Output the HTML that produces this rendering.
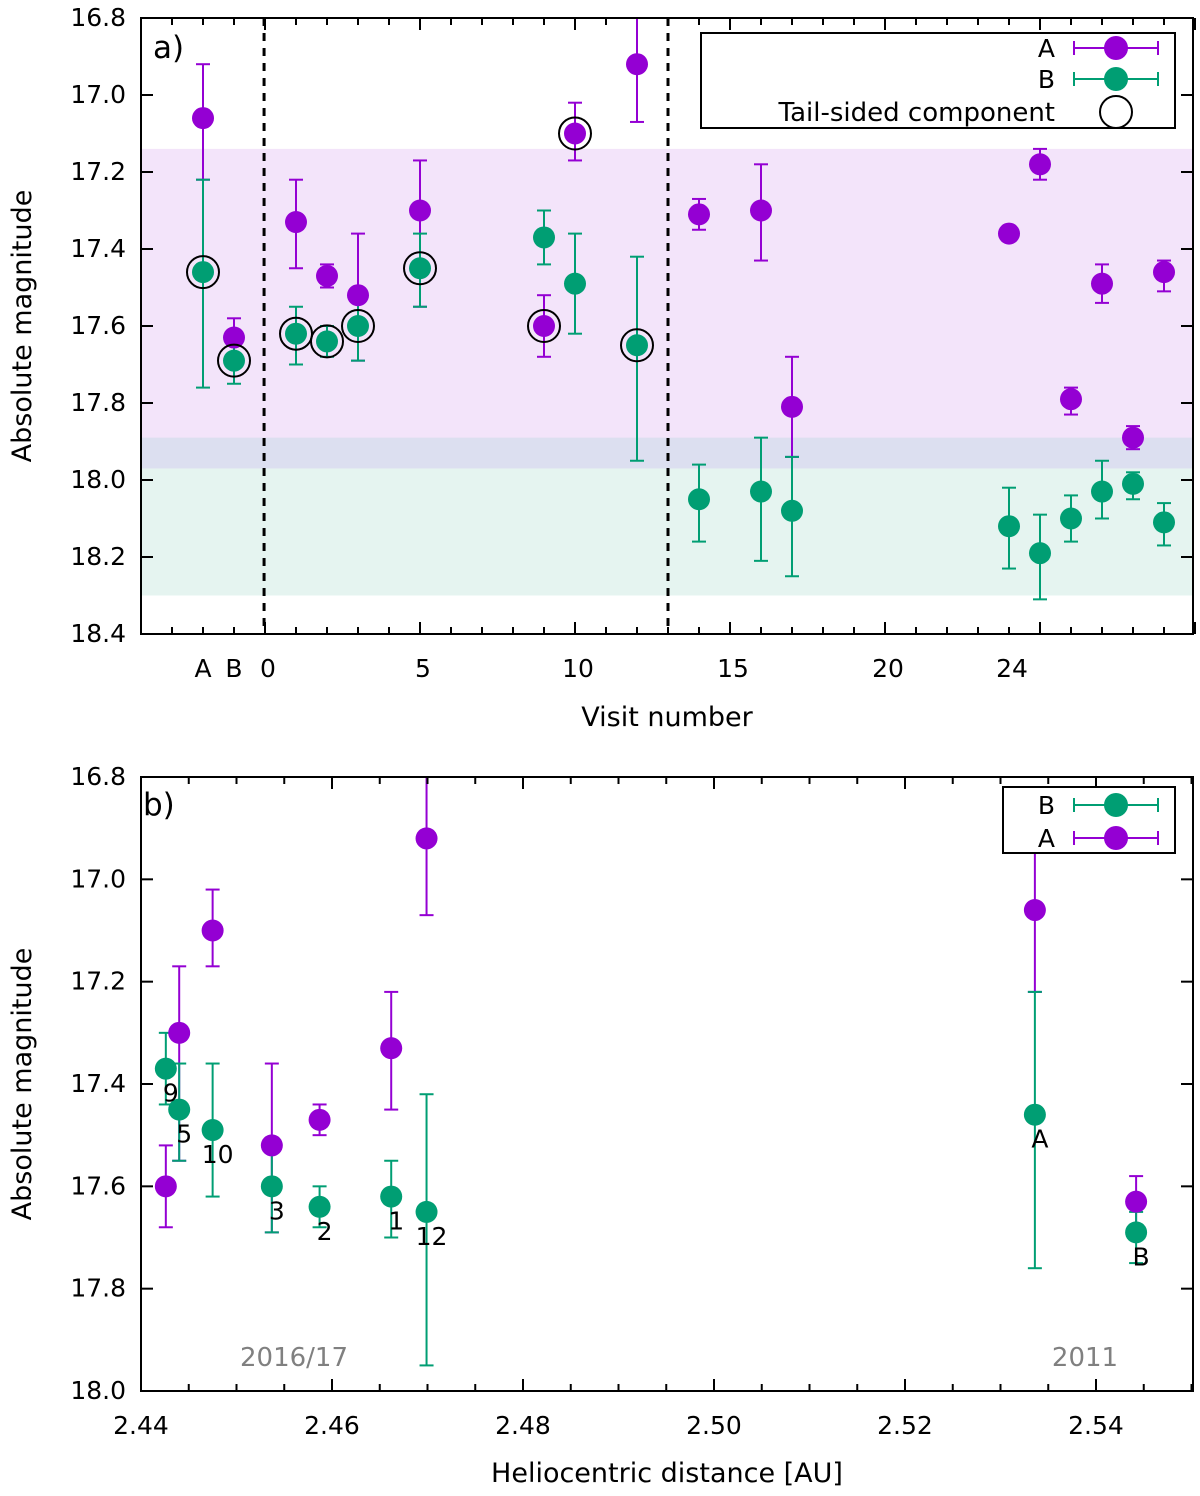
<!DOCTYPE html>
<html><head><meta charset="utf-8"><style>
body{margin:0;background:#fff}
svg{display:block;font-family:"DejaVu Sans","Liberation Sans",sans-serif}
</style></head><body>
<svg id="c" width="1200" height="1496" viewBox="0 0 1200 1496">
<defs><clipPath id="cp1"><rect x="141" y="18" width="1052" height="616"/></clipPath><clipPath id="cp2"><rect x="141" y="777" width="1052" height="614"/></clipPath></defs>
</svg>
<script>
// Top panel data (visit numbers; A=-2, B=-1)
const visits=[-2,-1,1,2,3,5,9,10,12,14,16,17,24,25,26,27,28,29];
const magA=[17.06,17.63,17.33,17.47,17.52,17.30,17.60,17.10,16.92,17.31,17.30,17.81,17.36,17.18,17.79,17.49,17.89,17.46];
const loA=[16.92,17.58,17.22,17.44,17.36,17.17,17.52,17.02,16.76,17.27,17.18,17.68,17.35,17.14,17.76,17.44,17.86,17.43];
const hiA=[17.22,17.68,17.45,17.50,17.69,17.55,17.68,17.17,17.07,17.35,17.43,17.94,17.37,17.22,17.83,17.54,17.92,17.51];
const magB=[17.46,17.69,17.62,17.64,17.60,17.45,17.37,17.49,17.65,18.05,18.03,18.08,18.12,18.19,18.10,18.03,18.01,18.11];
const loB=[17.22,17.65,17.55,17.60,17.53,17.36,17.30,17.36,17.42,17.96,17.89,17.94,18.02,18.09,18.04,17.95,17.98,18.06];
const hiB=[17.76,17.75,17.70,17.68,17.69,17.55,17.44,17.62,17.95,18.16,18.21,18.25,18.23,18.31,18.16,18.10,18.05,18.17];
const tail=['B','B','B','B','B','B','A','A','B','','','','','','','','',''];
const xTickVals=[0,5,10,15,20,24];
const xCatLabels=['A','B'];
const yTicks=[16.8,17.0,17.2,17.4,17.6,17.8,18.0,18.2,18.4];
// Bottom panel data
const dist=[2.4426,2.4440,2.4475,2.4537,2.4587,2.4662,2.4699,2.5336,2.5442];
const bLabels=['9','5','10','3','2','1','12','A','B'];
const bMagA=[17.60,17.30,17.10,17.52,17.47,17.33,16.92,17.06,17.63];
const bLoA=[17.52,17.17,17.02,17.36,17.44,17.22,16.76,16.92,17.58];
const bHiA=[17.68,17.55,17.17,17.69,17.50,17.45,17.07,17.22,17.68];
const bMagB=[17.37,17.45,17.49,17.60,17.64,17.62,17.65,17.46,17.69];
const bLoB=[17.30,17.36,17.36,17.53,17.60,17.55,17.42,17.22,17.65];
const bHiB=[17.44,17.55,17.62,17.69,17.68,17.70,17.95,17.76,17.75];
const bXTicks=[2.44,2.46,2.48,2.50,2.52,2.54];
const bYTicks=[16.8,17.0,17.2,17.4,17.6,17.8,18.0];

const P='#9400d3',G='#009e73';
const svg=document.getElementById('c');
const NS='http://www.w3.org/2000/svg';
function mk(t,a,name,parent){const e=document.createElementNS(NS,t);for(const k in a)e.setAttribute(k,a[k]);


(parent||svg).appendChild(e);return e;}
function txt(x,y,s,name,o){const e=mk('text',Object.assign({x:x,y:y,'font-size':25,fill:'#000'},o||{}),name);e.textContent=s;return e;}

// ---------- top panel ----------
const L1=141,R1=1193,T1=18,B1=634;
const xs1=v=>265+31*v, ys1=m=>T1+(m-16.8)/1.6*(B1-T1);
mk('rect',{x:L1,y:ys1(17.14),width:R1-L1,height:ys1(17.97)-ys1(17.14),fill:'#f3e4fa'},'band-a');
mk('rect',{x:L1,y:ys1(17.97),width:R1-L1,height:ys1(18.30)-ys1(17.97),fill:'#e5f4f0'},'band-b');
mk('rect',{x:L1,y:ys1(17.89),width:R1-L1,height:ys1(17.97)-ys1(17.89),fill:'#dcdff0'},'band-overlap');
[-0.03,13].forEach(v=>mk('line',{x1:xs1(v),x2:xs1(v),y1:T1,y2:B1,stroke:'#000','stroke-width':3,'stroke-dasharray':'8,7'},'dashed-divider'));
for(let v=-4;v<=30;v++){const x=xs1(v);const L=(v%5===0&&v>=0)?12:7;
 mk('line',{x1:x,x2:x,y1:B1,y2:B1-L,stroke:'#000','stroke-width':2},'x-tick');
 mk('line',{x1:x,x2:x,y1:T1,y2:T1+L,stroke:'#000','stroke-width':2},'x-tick');}
xTickVals.forEach(v=>txt(xs1(v)+3,677,String(v),'x-tick-label',{'text-anchor':'middle'}));
xCatLabels.forEach((s,i)=>txt(xs1(-2+i),677,s,'x-category-label',{'text-anchor':'middle'}));
yTicks.forEach(m=>{const y=ys1(m);
 mk('line',{x1:L1,x2:L1+12,y1:y,y2:y,stroke:'#000','stroke-width':2},'y-tick');
 mk('line',{x1:R1,x2:R1-12,y1:y,y2:y,stroke:'#000','stroke-width':2},'y-tick');
 txt(126,y+8,m.toFixed(1),'y-tick-label',{'text-anchor':'end'});});
const g1=mk('g',{'clip-path':'url(#cp1)'},'plot-area-a');
const g2=mk('g',{'clip-path':'url(#cp2)'},'plot-area-b');
function eb(x,y1,y2,c,ys,name,g){mk('line',{x1:x,x2:x,y1:ys(y1),y2:ys(y2),stroke:c,'stroke-width':2},name,g);
 [y1,y2].forEach(v=>mk('line',{x1:x-7,x2:x+7,y1:ys(v),y2:ys(v),stroke:c,'stroke-width':2},name+'-cap',g));}
visits.forEach((v,i)=>{const x=xs1(v);
 eb(x,loA[i],hiA[i],P,ys1,'error-bar-a',g1);eb(x,loB[i],hiB[i],G,ys1,'error-bar-b',g1);});
visits.forEach((v,i)=>{const x=xs1(v);
 mk('circle',{cx:x,cy:ys1(magA[i]),r:11,fill:P},'point-a',g1);
 mk('circle',{cx:x,cy:ys1(magB[i]),r:11,fill:G},'point-b',g1);
 if(tail[i])mk('circle',{cx:x,cy:ys1(tail[i]==='A'?magA[i]:magB[i]),r:16,fill:'none',stroke:'#000','stroke-width':2},'tail-marker',g1);});
mk('rect',{x:L1,y:T1,width:R1-L1,height:B1-T1,fill:'none',stroke:'#000','stroke-width':2},'plot-frame-a');
txt(153,58,'a)','panel-label-a',{'font-size':31});
txt(667,726,'Visit number','x-axis-title',{'text-anchor':'middle','font-size':27});
txt(0,0,'Absolute magnitude','y-axis-title',{'text-anchor':'middle','font-size':27,transform:'translate(31,326) rotate(-90)'});
mk('rect',{x:701,y:33,width:474,height:95,fill:'#fff',stroke:'#000','stroke-width':2},'legend-box');
function legRow(y,label,c,name){txt(1055,y+9,label,name+'-label',{'text-anchor':'end'});
 mk('line',{x1:1074,x2:1158,y1:y,y2:y,stroke:c,'stroke-width':2},name+'-line');
 [1074,1158].forEach(x=>mk('line',{x1:x,x2:x,y1:y-7,y2:y+7,stroke:c,'stroke-width':2},name+'-cap'));
 mk('circle',{cx:1116,cy:y,r:12,fill:c},name+'-marker');}
legRow(48,'A',P,'legend-entry-a');legRow(79,'B',G,'legend-entry-b');
txt(1055,121,'Tail-sided component','legend-tail-label',{'text-anchor':'end','font-size':26});
mk('circle',{cx:1116,cy:112,r:16,fill:'none',stroke:'#000','stroke-width':2},'legend-tail-marker');

// ---------- bottom panel ----------
const L2=141,R2=1193,T2=777,B2=1391;
const xs2=d=>L2+(d-2.44)/0.02*191, ys2=m=>T2+(m-16.8)/1.2*(B2-T2);
for(let k=0;k<=22;k++){const d=2.44+k*0.005;const x=xs2(d);const L=(k%4===0)?12:7;
 mk('line',{x1:x,x2:x,y1:B2,y2:B2-L,stroke:'#000','stroke-width':2},'x-tick');
 mk('line',{x1:x,x2:x,y1:T2,y2:T2+L,stroke:'#000','stroke-width':2},'x-tick');}
bXTicks.forEach(d=>txt(xs2(d),1434,d.toFixed(2),'x-tick-label',{'text-anchor':'middle'}));
bYTicks.forEach(m=>{const y=ys2(m);
 mk('line',{x1:L2,x2:L2+12,y1:y,y2:y,stroke:'#000','stroke-width':2},'y-tick');
 mk('line',{x1:R2,x2:R2-12,y1:y,y2:y,stroke:'#000','stroke-width':2},'y-tick');
 txt(126,y+8,m.toFixed(1),'y-tick-label',{'text-anchor':'end'});});
dist.forEach((d,i)=>{const x=xs2(d);
 eb(x,bLoA[i],bHiA[i],P,ys2,'error-bar-a',g2);eb(x,bLoB[i],bHiB[i],G,ys2,'error-bar-b',g2);});
dist.forEach((d,i)=>{const x=xs2(d);
 mk('circle',{cx:x,cy:ys2(bMagA[i]),r:11,fill:P},'point-a',g2);
 mk('circle',{cx:x,cy:ys2(bMagB[i]),r:11,fill:G},'point-b',g2);
 txt(x+5,ys2(bMagB[i])+33,bLabels[i],'point-label',{'text-anchor':'middle'});});
mk('rect',{x:L2,y:T2,width:R2-L2,height:B2-T2,fill:'none',stroke:'#000','stroke-width':2},'plot-frame-b');
txt(143,815,'b)','panel-label-b',{'font-size':31});
txt(294,1366,'2016/17','annotation-2016',{'text-anchor':'middle',fill:'#808080','font-size':26});
txt(1085,1366,'2011','annotation-2011',{'text-anchor':'middle',fill:'#808080','font-size':26});
txt(667,1482,'Heliocentric distance [AU]','x-axis-title',{'text-anchor':'middle','font-size':27});
txt(0,0,'Absolute magnitude','y-axis-title',{'text-anchor':'middle','font-size':27,transform:'translate(31,1084) rotate(-90)'});
mk('rect',{x:1003,y:787,width:172,height:66,fill:'#fff',stroke:'#000','stroke-width':2},'legend-box-b');
legRow(805,'B',G,'legend-b-entry-b');legRow(838,'A',P,'legend-b-entry-a');
</script>
</body></html>
